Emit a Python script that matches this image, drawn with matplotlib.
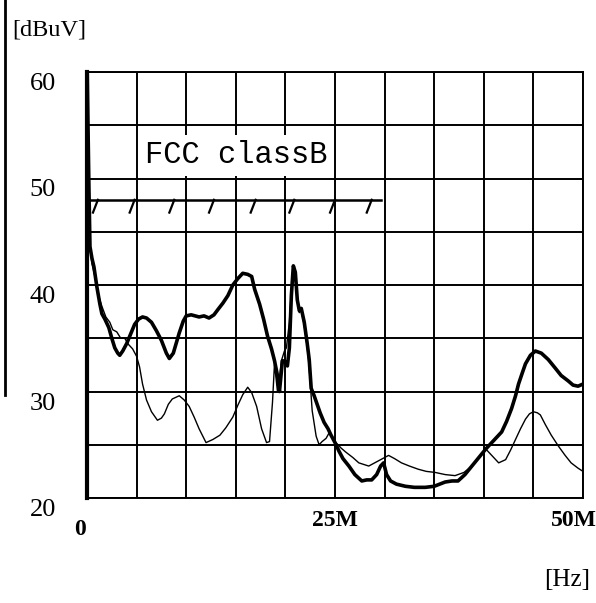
import numpy as np
import matplotlib.pyplot as plt
from matplotlib.lines import Line2D
from matplotlib.transforms import ScaledTranslation

# frequency [MHz] / level [dBuV]
thick_f = [0, 0.1, 0.2, 0.3, 0.5, 0.7, 1.0, 1.3, 1.5, 1.8, 2.2, 2.5, 2.8, 3.1, 3.3, 3.6,
           4.0, 4.4, 4.8, 5.2, 5.6, 6.0, 6.5, 7.0, 7.5, 8.0, 8.3, 8.7, 9.3, 9.7, 10.0,
           10.5, 11.3, 11.8, 12.3, 12.8, 13.2, 13.7, 14.2, 14.7, 15.2, 15.7, 16.2, 16.6,
           16.9, 17.4, 17.8, 18.2, 18.6, 18.9, 19.2, 19.4, 19.7, 20.0, 20.2, 20.4, 20.6,
           20.8, 21.0, 21.2, 21.4, 21.6, 21.9, 22.2, 22.4, 22.6, 22.9, 23.2, 23.5, 23.9,
           24.3, 24.6, 25.0, 25.4, 25.8, 26.4, 27.0, 27.7, 28.2, 28.7, 29.2, 29.6, 29.9,
           30.2, 30.6, 31.2, 32.1, 33.0, 34.1, 35.0, 36.1, 36.8, 37.4, 38.1, 38.8, 39.5,
           40.2, 41.0, 41.8, 42.3, 42.8, 43.2, 43.5, 43.9, 44.2, 44.7, 45.2, 45.8, 46.5,
           47.2, 47.8, 48.5, 49.0, 49.5, 50.0]
thick_v = [61.5, 55.0, 48.8, 43.6, 42.5, 41.7, 39.8, 38.2, 37.3, 36.8, 36.0, 35.0, 34.1,
           33.6, 33.4, 33.8, 34.5, 35.4, 36.3, 36.8, 37.0, 36.9, 36.5, 35.7, 34.8, 33.6,
           33.1, 33.6, 35.5, 36.6, 37.1, 37.2, 37.0, 37.1, 36.9, 37.2, 37.7, 38.3, 39.0,
           40.0, 40.6, 41.1, 41.0, 40.8, 39.6, 38.2, 36.8, 35.2, 34.0, 32.9, 31.5, 30.0,
           32.9, 32.8, 32.4, 34.1, 39.0, 41.8, 41.2, 38.6, 37.6, 37.8, 36.5, 34.5, 33.0,
           30.3, 29.6, 28.8, 28.0, 27.1, 26.5, 25.9, 25.2, 24.4, 23.7, 23.0, 22.2, 21.6,
           21.7, 21.7, 22.2, 23.0, 23.3, 22.2, 21.6, 21.3, 21.1, 21.0, 21.0, 21.1, 21.5,
           21.6, 21.6, 22.2, 23.0, 23.8, 24.6, 25.4, 26.2, 27.2, 28.4, 29.6, 30.7, 31.8,
           32.6, 33.4, 33.8, 33.6, 33.0, 32.2, 31.5, 31.0, 30.6, 30.5, 30.7]

thin_f = [0, 0.1, 0.2, 0.3, 0.5, 0.8, 1.1, 1.5, 1.9, 2.3, 2.6, 3.0, 3.4, 3.8, 4.2, 4.6,
          5.0, 5.3, 5.6, 6.0, 6.5, 7.1, 7.5, 7.8, 8.2, 8.6, 9.3, 9.8, 10.3, 10.8, 11.3,
          12.0, 12.7, 13.4, 14.0, 14.7, 15.2, 15.7, 16.2, 16.6, 17.1, 17.6, 18.1, 18.4,
          18.7, 18.9, 19.2, 19.4, 19.6, 19.9, 20.1, 20.4, 20.6, 20.8, 21.0, 21.2, 21.4,
          21.6, 21.9, 22.2, 22.4, 22.7, 23.1, 23.4, 23.7, 24.1, 24.4, 24.8, 25.1, 25.6,
          26.1, 26.8, 27.4, 28.4, 29.4, 30.0, 30.4, 31.0, 31.7, 32.5, 33.4, 34.2, 35.1,
          36.1, 37.1, 38.0, 38.8, 39.5, 40.2, 40.8, 41.5, 42.2, 42.7, 43.2, 43.7, 44.2,
          44.6, 45.0, 45.4, 45.7, 46.2, 46.8, 47.5, 48.2, 48.8, 49.5, 50.0]
thin_v = [61.5, 55.0, 48.5, 43.8, 42.0, 40.8, 39.2, 38.0, 37.0, 36.5, 35.8, 35.6, 35.0,
          35.0, 34.4, 34.0, 33.3, 32.3, 30.7, 29.2, 28.1, 27.3, 27.5, 27.9, 28.8, 29.3,
          29.6, 29.2, 28.6, 27.6, 26.5, 25.2, 25.5, 25.9, 26.6, 27.6, 28.7, 29.7, 30.4,
          29.9, 28.6, 26.5, 25.2, 25.3, 29.0, 32.6, 30.0, 31.2, 32.9, 33.8, 34.1, 36.5,
          39.5, 41.6, 41.0, 38.5, 37.4, 37.6, 36.2, 34.2, 32.2, 28.2, 25.8, 25.0, 25.3,
          25.6, 26.1, 25.6, 25.2, 24.7, 24.3, 23.8, 23.3, 23.0, 23.5, 23.8, 24.0, 23.7,
          23.3, 23.0, 22.7, 22.5, 22.4, 22.2, 22.1, 22.4, 23.0, 23.8, 24.6, 24.0, 23.3,
          23.6, 24.5, 25.5, 26.5, 27.4, 27.9, 28.1, 28.0, 27.8, 26.9, 25.9, 24.9, 24.0,
          23.3, 22.8, 22.5]

# FCC class B limit
limit_f = [0.1, 29.6]
limit_v = [48, 48]
hatch_x = [1.1, 4.8, 8.8, 12.8, 17.0, 20.9, 25.0, 28.7]

y_labels = [60, 50, 40, 30, 20]
x_ticks = [0, 25, 50]
x_labels = ['0', '25M', '50M']

serif = ['Liberation Serif', 'DejaVu Serif']

fig = plt.figure(figsize=(5.96, 6.03), dpi=100)
ax = fig.add_axes([87 / 596, 1 - 498 / 603, 496 / 596, 426 / 603])
ax.set_xlim(0, 50)
ax.set_ylim(20, 60)

# grid
ax.set_xticks(np.arange(0, 51, 5))
ax.set_yticks(np.arange(20, 61, 5))
ax.tick_params(length=0, labelbottom=False, labelleft=False)
ax.grid(True, color='black', lw=1.4)
for s in ax.spines.values():
    s.set_linewidth(1.4)
ax.spines['left'].set_linewidth(3)

# traces
ax.plot(thin_f, thin_v, color='black', lw=1.0, zorder=3)
ax.plot(thick_f, thick_v, color='black', lw=2.6, zorder=4)

# limit line with hatching
ax.plot(limit_f, limit_v, color='black', lw=1.8, zorder=3)
for hx in hatch_x:
    ax.plot([hx, hx - 0.5], [48, 46.8], color='black', lw=1.6, zorder=3)

ax.text(15.07, 52.2, 'FCC classB', family=['Liberation Mono', 'DejaVu Sans Mono'],
        fontsize=22, ha='center', va='center', zorder=5,
        bbox=dict(boxstyle='square,pad=0.18', fc='white', ec='none'))

# axis labels
down = ScaledTranslation(0, -0.12, fig.dpi_scale_trans)
for v in y_labels:
    ax.text(-0.089, v, str(v), transform=ax.get_yaxis_transform() + down,
            ha='center', va='center', family=serif, fontsize=19)

xoff = [-0.07, 0.0, -0.09]
for xv, lab, dx in zip(x_ticks, x_labels, xoff):
    yy = -0.075 if lab == '0' else -0.052
    ax.text(xv, yy, lab, family=serif, fontsize=17, fontweight='bold',
            ha='center', va='center',
            transform=ax.get_xaxis_transform() + ScaledTranslation(dx, 0, fig.dpi_scale_trans))

fig.text(49 / 596, 1 - 30 / 603, '[dBuV]', family=serif, fontsize=17.5,
         ha='center', va='center')
fig.text(567 / 596, 1 - 580 / 603, '[Hz]', family=serif, fontsize=18,
         ha='center', va='center')

# edge of the neighbouring figure
fig.add_artist(Line2D([5 / 596, 5 / 596], [1, 1 - 395 / 603], color='black', lw=2,
                      transform=fig.transFigure))

fig.savefig('out.png', dpi=100)
